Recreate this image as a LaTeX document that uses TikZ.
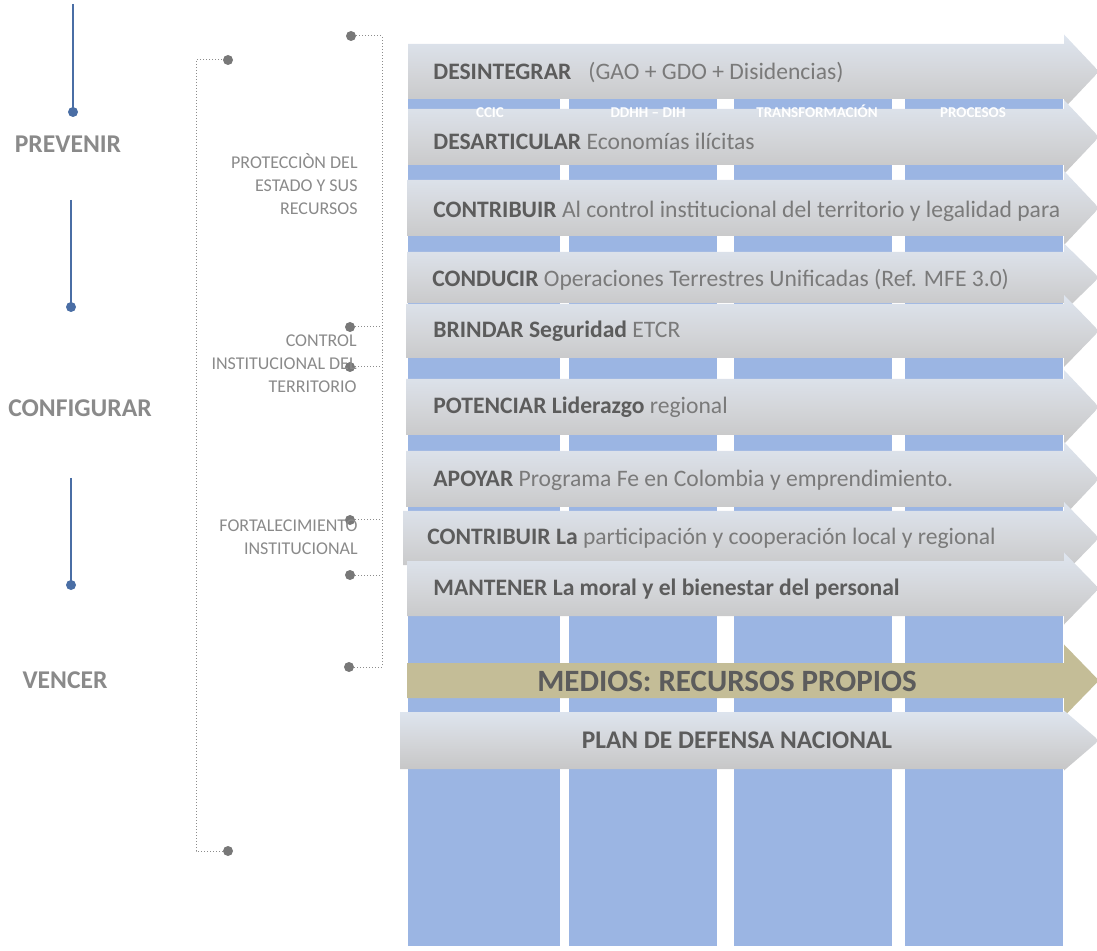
\documentclass[tikz,border=0pt]{standalone}
\usepackage{fontspec}
\setmainfont{Carlito}
\definecolor{colblue}{RGB}{155,181,227}
\definecolor{arrtop}{RGB}{222,229,239}
\definecolor{arrmid}{RGB}{212,214,218}
\definecolor{arrbot}{RGB}{198,198,198}
\definecolor{tan}{RGB}{196,189,151}
\definecolor{txtbold}{RGB}{92,92,92}
\definecolor{txtreg}{RGB}{122,122,122}
\definecolor{lblgray}{RGB}{138,138,138}
\definecolor{linblue}{RGB}{74,110,165}
\definecolor{dotgray}{RGB}{120,120,120}
\definecolor{brkgray}{RGB}{140,140,140}
\newcommand{\bw}[1]{{\color{txtbold}\bfseries #1}}
\newcommand{\garrow}[5]{%
  \path[#5] (#1,#2) -- (1064,#2) -- (1064,{(#2+#3)/2-#4}) -- (1099,{(#2+#3)/2}) -- (1064,{(#2+#3)/2+#4}) -- (1064,#3) -- (#1,#3) -- cycle;}
\begin{document}
\begin{tikzpicture}[x=0.5pt,y=-0.5pt,
  grayarr/.style={top color=arrtop, bottom color=arrbot, middle color=arrmid},
  tanarr/.style={fill=tan},
  rowtxt/.style={anchor=west, inner sep=0, font=\fontsize{11.8}{13}\selectfont, text=txtreg},
  midtxt/.style={inner sep=0, font=\bfseries\fontsize{12}{14}\selectfont, text=txtbold},
  phase/.style={inner sep=0, font=\bfseries\fontsize{12.8}{14}\selectfont, text=lblgray},
  grp/.style={anchor=north east, align=right, inner sep=0, font=\fontsize{9}{11.5}\selectfont, text=lblgray},
  hdr/.style={anchor=base, inner sep=0, font=\bfseries\fontsize{7.5}{8}\selectfont, text=white},
  bdot/.style={circle, fill=linblue, inner sep=0, minimum size=5pt},
  gdot/.style={circle, fill=dotgray, inner sep=0, minimum size=5pt},
  bline/.style={draw=linblue, line width=1pt},
  brk/.style={draw=brkgray, densely dotted, line width=0.5pt}]
\useasboundingbox (0,0) rectangle (1097,951);
% blue columns
\fill[colblue] (408,60) rectangle (560,946);
\fill[colblue] (569,60) rectangle (717,946);
\fill[colblue] (734,60) rectangle (892,946);
\fill[colblue] (905,60) rectangle (1063,946);
% arrows
\garrow{408}{44}{99}{37}{grayarr}
\garrow{408}{109}{165}{37}{grayarr}
\garrow{407}{180}{236}{37}{grayarr}
\garrow{407}{252}{303}{34}{grayarr}
\garrow{406}{304}{358}{36}{grayarr}
\garrow{406}{379}{435}{37}{grayarr}
\garrow{406}{451}{507}{37}{grayarr}
\garrow{403}{511}{565}{36}{grayarr}
\garrow{407}{561}{616}{36}{grayarr}
\garrow{407}{663}{698}{36}{tanarr}
\garrow{400}{712}{769}{30}{grayarr}
% column headers
\node[hdr] (h1) at (490,118) {CCIC};
\node[hdr] (h2) at (648,118) {DDHH -- DIH};
\node[hdr] (h3) at (817,118) {TRANSFORMACIÓN};
\node[hdr] (h4) at (973,118) {PROCESOS};
% row texts
\node[rowtxt] (t1) at (433,73) {\bw{DESINTEGRAR}\enspace\ (GAO + GDO + Disidencias)};
\node[rowtxt] (t2) at (433,141) {\bw{DESARTICULAR} Economías ilícitas};
\node[rowtxt] (t3) at (433,211) {\bw{CONTRIBUIR} Al control institucional del territorio y legalidad para};
\node[rowtxt] (t4) at (432,280) {\bw{CONDUCIR} Operaciones Terrestres Unificadas (Ref. MFE 3.0)};
\node[rowtxt] (t5) at (433,331) {\bw{BRINDAR Seguridad} ETCR};
\node[rowtxt] (t6) at (433,407) {\bw{POTENCIAR Liderazgo} regional};
\node[rowtxt] (t7) at (433,480) {\bw{APOYAR} Programa Fe en Colombia y emprendimiento.};
\node[rowtxt] (t8) at (427,538) {\bw{CONTRIBUIR La} participación y cooperación local y regional};
\node[rowtxt] (t9) at (433,589) {\bw{MANTENER La moral y el bienestar del personal}};
\node[midtxt, font=\bfseries\fontsize{15.5}{17}\selectfont] (t10) at (727,681) {MEDIOS: RECURSOS PROPIOS};
\node[midtxt, font=\bfseries\fontsize{12.7}{14}\selectfont] (t11) at (737,740) {PLAN DE DEFENSA NACIONAL};
% phases
\node[phase] (ph1) at (68,144) {PREVENIR};
\node[phase] (ph2) at (80,408) {CONFIGURAR};
\node[phase] (ph3) at (65,680) {VENCER};
\coordinate (b1s) at (73,4);
\coordinate (b2s) at (71,200);
\coordinate (b3s) at (71,478);
\node[bdot] (b1) at (73,112) {};
\node[bdot] (b2) at (71,307) {};
\node[bdot] (b3) at (71,585) {};
\draw[bline] (b1s) -- (b1.center);
\draw[bline] (b2s) -- (b2.center);
\draw[bline] (b3s) -- (b3.center);
% brackets
\coordinate (ov) at (196,450);
\coordinate (iv) at (382,350);
\draw[brk] (228,60) coordinate (o1c) -| (ov) |- (228,851) coordinate (o2c);
\node[gdot] (o1) at (o1c) {};
\node[gdot] (o2) at (o2c) {};
\node[gdot] (i1) at (351,36) {};
\node[gdot] (i2) at (350,327) {};
\node[gdot] (i3) at (350,367) {};
\node[gdot] (i4) at (350,520) {};
\node[gdot] (i5) at (350,575) {};
\node[gdot] (i6) at (349,667) {};
\draw[brk] (i1.east) -| (iv) |- (i6.east);
\draw[brk] (i2.east) -- (i2 -| iv);
\draw[brk] (i3.east) -- (i3 -| iv);
\draw[brk] (i4.east) -- (i4 -| iv);
\draw[brk] (i5.east) -- (i5 -| iv);
% group labels
\node[grp] (g1) at (358,153) {PROTECCIÒN DEL\\ESTADO Y SUS\\RECURSOS};
\node[grp] (g2) at (357,334) {CONTROL\\INSTITUCIONAL DEL\\TERRITORIO};
\node[grp] (g3) at (358,519) {FORTALECIMIENTO\\INSTITUCIONAL};
\end{tikzpicture}
\end{document}
